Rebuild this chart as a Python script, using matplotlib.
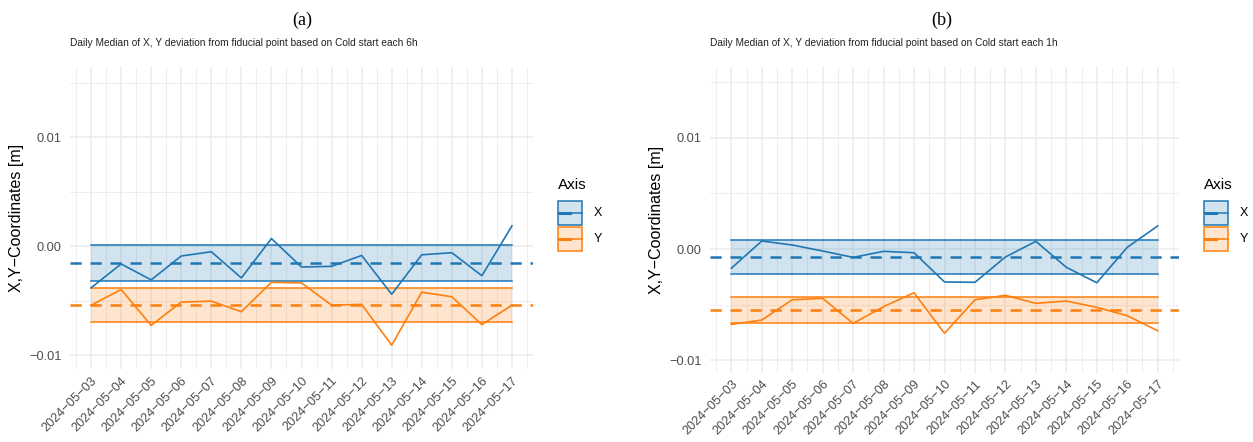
import numpy as np
import matplotlib
matplotlib.use("Agg")
import matplotlib.pyplot as plt
from matplotlib.patches import Rectangle
from matplotlib.lines import Line2D

# data (metres)
dates = ["2024-05-03", "2024-05-04", "2024-05-05", "2024-05-06", "2024-05-07",
         "2024-05-08", "2024-05-09", "2024-05-10", "2024-05-11", "2024-05-12",
         "2024-05-13", "2024-05-14", "2024-05-15", "2024-05-16", "2024-05-17"]

x_6h = [-0.00381, -0.00162, -0.00308, -0.00089, -0.00050, -0.00290, 0.00071, -0.00190,
        -0.00184, -0.00084, -0.00440, -0.00078, -0.00059, -0.00270, 0.00187]
y_6h = [-0.00540, -0.00397, -0.00725, -0.00512, -0.00503, -0.00600, -0.00330, -0.00336,
        -0.00540, -0.00533, -0.00907, -0.00421, -0.00463, -0.00718, -0.00540]

x_1h = [-0.00173, 0.00072, 0.00036, -0.00018, -0.00075, -0.00021, -0.00033, -0.00296,
        -0.00299, -0.00072, 0.00069, -0.00164, -0.00303, 0.00015, 0.00207]
y_1h = [-0.00677, -0.00638, -0.00456, -0.00443, -0.00668, -0.00518, -0.00393, -0.00757,
        -0.00456, -0.00416, -0.00488, -0.00467, -0.00524, -0.00599, -0.00734]

panels = [
    ("(a)", "Daily Median of X, Y deviation from fiducial point based on Cold start each 6h", x_6h, y_6h),
    ("(b)", "Daily Median of X, Y deviation from fiducial point based on Cold start each 1h", x_1h, y_1h),
]

BLUE = "#1f77b4"
ORANGE = "#ff7f0e"
GRID = "#ebebeb"
TXT = "#4d4d4d"

W, H = 1253, 442
plt.rcParams['font.family'] = ['Liberation Sans', 'DejaVu Sans']
fig = plt.figure(figsize=(W / 100, H / 100), dpi=100)

# panel boxes in pixels: left, top, right, bottom
boxes = [(70, 67, 533, 369.3), (710, 67, 1179, 372.7)]
ylims = [(-0.01128, 0.01644), (-0.01111, 0.01635)]

labels = [d.replace("-", "\u2212") for d in dates]
idx = np.arange(len(dates))

for k, (tag, sub, xs, ys) in enumerate(panels):
    l, t, r, b = boxes[k]
    ax = fig.add_axes([l / W, 1 - b / H, (r - l) / W, (b - t) / H])
    for s in ax.spines.values():
        s.set_visible(False)
    ax.set_xlim(-0.7, len(dates) - 1 + 0.7)
    ax.set_ylim(*ylims[k])

    # grid
    for v in idx:
        ax.axvline(v, color=GRID, lw=1.1, zorder=0)
    for v in np.arange(-0.5, len(dates), 1.0):
        ax.axvline(v, color=GRID, lw=0.6, zorder=0)
    for v in [-0.01, 0.0, 0.01]:
        ax.axhline(v, color=GRID, lw=1.1, zorder=0)
    for v in [-0.005, 0.005, 0.015]:
        ax.axhline(v, color=GRID, lw=0.6, zorder=0)

    for vals, col in [(xs, BLUE), (ys, ORANGE)]:
        vals = np.array(vals)
        m = vals.mean()
        sd = vals.std(ddof=1)
        ax.fill_between(idx, m - sd, m + sd, color=col, alpha=0.2, lw=0, zorder=1)
        ax.plot(idx, np.full(len(idx), m + sd), color=col, lw=1.1, zorder=2)
        ax.plot(idx, np.full(len(idx), m - sd), color=col, lw=1.1, zorder=2)
        ax.axhline(m, color=col, lw=1.8, ls=(0, (4.5, 3.5)), zorder=3)
        ax.plot(idx, vals, color=col, lw=1.2, zorder=4)

    ax.set_yticks([-0.01, 0.0, 0.01])
    ax.set_yticklabels(["\u22120.01", "0.00", "0.01"])
    ax.set_xticks(idx)
    ax.set_xticklabels(labels, rotation=45, ha="right", va="top", rotation_mode="anchor")
    ax.tick_params(axis="both", length=0, colors=TXT, labelsize=9.2)
    ax.tick_params(axis="y", pad=6)
    ax.tick_params(axis="x", pad=4)

    # titles
    fig.text((l + 232) / W, 1 - 20 / H, tag, family="Liberation Serif", fontsize=13,
             ha="center", va="center")
    fig.text(l / W, 1 - 43 / H, sub, fontsize=7.3, ha="left", va="center", color="#222222")
    fig.text((l - 53) / W, 1 - ((t + b) / 2) / H, "X,Y\u2212Coordinates [m]", fontsize=11.5,
             rotation=90, ha="center", va="center")

    # legend
    lx = r + 25
    fig.text(lx / W, 1 - 185 / H, "Axis", fontsize=11, ha="left", va="center")
    for j, (name, col) in enumerate([("X", BLUE), ("Y", ORANGE)]):
        ky = 201 + j * 26
        fig.patches.append(Rectangle((lx / W, 1 - (ky + 24) / H), 24 / W, 24 / H,
                                     transform=fig.transFigure, facecolor=col, alpha=0.2, lw=0))
        fig.patches.append(Rectangle((lx / W, 1 - (ky + 24) / H), 24 / W, 24 / H,
                                     transform=fig.transFigure, facecolor="none", edgecolor=col, lw=1.1))
        cy = 1 - (ky + 12) / H
        fig.lines.append(Line2D([lx / W, (lx + 24) / W], [cy, cy], transform=fig.transFigure,
                                color=col, lw=1.1))
        fig.lines.append(Line2D([(lx + 2) / W, (lx + 12) / W], [cy, cy], transform=fig.transFigure,
                                color=col, lw=2.2))
        fig.text((lx + 36) / W, cy, name, fontsize=9, ha="left", va="center")

fig.savefig("out.png", dpi=100)
